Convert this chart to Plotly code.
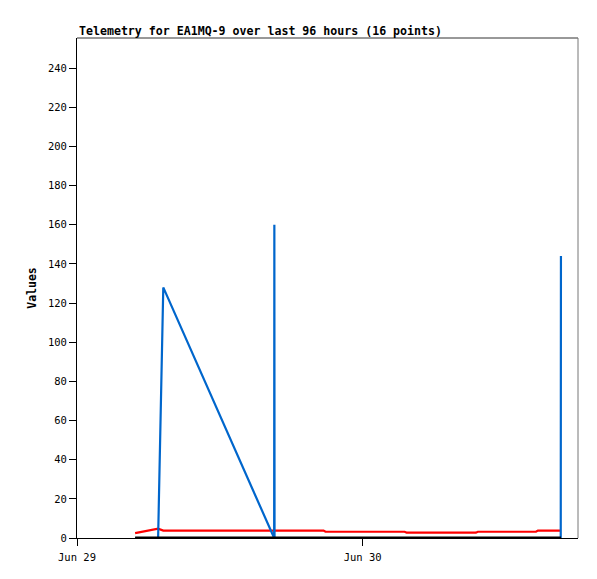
import plotly.graph_objects as go

# Timestamps of the 16 telemetry points
times = [
    "2023-06-29 04:53", "2023-06-29 06:49", "2023-06-29 07:15", "2023-06-29 16:34",
    "2023-06-29 16:35", "2023-06-29 16:36", "2023-06-29 20:43", "2023-06-29 20:53",
    "2023-06-30 03:32", "2023-06-30 03:42", "2023-06-30 09:31", "2023-06-30 09:41",
    "2023-06-30 14:34", "2023-06-30 14:44", "2023-06-30 16:39", "2023-06-30 16:40",
]
red_values = [2.5, 4.8, 3.8, 3.8, 3.8, 3.8, 3.8, 3.2, 3.2, 2.7, 2.7, 3.2, 3.2, 3.8, 3.8, 3.8]
blue_values = [0, 0, 128, 0, 160, 0, 0, 0, 0, 0, 0, 0, 0, 0, 0, 144]
black_values = [0] * 16

x_tick_vals = ["2023-06-29 00:00", "2023-06-30 00:00"]
x_tick_text = ["Jun 29", "Jun 30"]
y_tick_vals = list(range(0, 241, 20))
x_range = ["2023-06-29 00:00", "2023-06-30 18:06"]
y_range = [0, 255.4]

title_text = "Telemetry for EA1MQ-9 over last 96 hours (16 points)"
y_title = "Values"

fig = go.Figure()
fig.add_trace(go.Scatter(x=times, y=red_values, mode="lines",
                         line=dict(color="#FF0000", width=2.2), showlegend=False))
fig.add_trace(go.Scatter(x=times, y=blue_values, mode="lines",
                         line=dict(color="#0066CC", width=2.2), showlegend=False))
fig.add_trace(go.Scatter(x=times, y=black_values, mode="lines",
                         line=dict(color="#000000", width=3), showlegend=False))

mono = "DejaVu Sans Mono"
fig.update_layout(
    width=589, height=571,
    margin=dict(l=69, r=19, t=30, b=41),
    paper_bgcolor="white", plot_bgcolor="white",
    font=dict(family=mono, size=10.5, color="#000000"),
    xaxis=dict(type="date", range=x_range, tickvals=x_tick_vals, ticktext=x_tick_text,
               showgrid=False, zeroline=False, showline=True, linecolor="#000000",
               linewidth=1, ticks="outside", ticklen=7, tickcolor="#000000",
               ticklabelstandoff=2, tickfont=dict(family=mono, size=10.5)),
    yaxis=dict(range=y_range, tickvals=y_tick_vals, showgrid=False, zeroline=False,
               showline=True, linecolor="#000000", linewidth=1, ticks="outside",
               ticklen=7, tickcolor="#000000", tickfont=dict(family=mono, size=10.5),
               title=dict(text="<b>" + y_title + "</b>", font=dict(family=mono, size=11.5),
                          standoff=8)),
    shapes=[
        dict(type="line", xref="paper", yref="paper", x0=0, x1=1, y0=1, y1=1,
             line=dict(color="#333333", width=1)),
        dict(type="line", xref="paper", yref="paper", x0=1, x1=1, y0=0, y1=1,
             line=dict(color="#777777", width=1)),
    ],
    annotations=[
        dict(text="<b>" + title_text + "</b>", xref="paper", yref="paper", x=0, y=1,
             xanchor="left", yanchor="bottom", showarrow=False, yshift=-2,
             font=dict(family=mono, size=11.6, color="#000000")),
    ],
)

fig.write_html("out.html")
